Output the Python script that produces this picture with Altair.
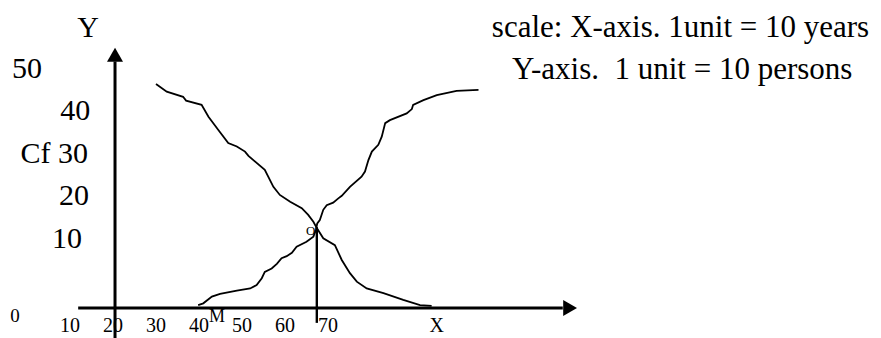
import altair as alt
import pandas as pd

# ---- data (x: age in years, y: cumulative frequency, persons) ----
less_age = [39.8, 41.0, 43.0, 44.9, 48.8, 51.9, 53.4, 54.6, 55.3, 56.9,
            58.1, 59.2, 60.4, 61.6, 62.7, 65.0, 66.6, 67.2, 67.5, 68.1,
            68.9, 69.7, 71.2, 72.4, 73.2, 75.1, 77.8, 78.6, 79.4, 80.2,
            81.7, 82.5, 83.3, 84.4, 88.3, 89.5, 89.8, 92.2, 95.3, 99.9, 105.0]
less_cf = [0.7, 1.1, 2.7, 3.3, 4.1, 4.6, 5.4, 7.0, 8.5, 9.3,
           10.4, 11.7, 12.2, 13.0, 14.4, 15.6, 16.8, 18.4, 19.9, 20.7,
           23.1, 24.2, 24.8, 25.8, 26.4, 28.5, 30.9, 32.1, 34.8, 36.8,
           38.4, 40.3, 43.5, 44.2, 45.8, 46.8, 47.8, 48.9, 50.1, 51.1, 51.3]

more_age = [30.0, 32.5, 36.3, 37.0, 40.6, 42.2, 44.5, 46.8, 48.8, 50.7,
            51.5, 55.3, 56.1, 57.3, 58.8, 61.2, 63.9, 65.4, 66.6, 67.4,
            68.9, 71.6, 73.2, 75.1, 76.7, 79.0, 82.9, 87.5, 91.4, 94.1]
more_cf = [52.7, 50.9, 49.7, 48.8, 47.8, 45.0, 41.9, 38.8, 38.0, 36.8,
           35.8, 32.5, 30.9, 28.5, 26.6, 25.0, 23.5, 21.9, 20.3, 18.8,
           16.4, 14.8, 11.3, 8.2, 6.2, 4.6, 3.5, 1.9, 0.7, 0.5]

median_age = 67.4
median_cf = 19.0

x_tick_values = [10, 20, 30, 40, 50, 60, 70]
x_tick_labels = ["10", "20", "30", "40", "50", "60", "70"]
y_tick_values = [50, 40, 30, 20, 10]
y_tick_labels = ["50", "40", "Cf 30", "20", "10"]

scale_line1 = "scale: X-axis. 1unit = 10 years"
scale_line2 = "Y-axis.\u00a0 1 unit = 10 persons"

# ---- layout (positions of the sketch's furniture, in the same data units) ----
XDOM = [-4.4186, 196.744]
YDOM = [-7.0588, 70.588]
FONT = "Liberation Serif"

xs = alt.Scale(domain=XDOM, nice=False, zero=False)
ys = alt.Scale(domain=YDOM, nice=False, zero=False)

def X(f="x"):
    return alt.X(f, type="quantitative", scale=xs, axis=None)

def Y(f="y"):
    return alt.Y(f, type="quantitative", scale=ys, axis=None)

curves = pd.concat([
    pd.DataFrame({"x": less_age, "y": less_cf, "s": "less", "i": range(len(less_age))}),
    pd.DataFrame({"x": more_age, "y": more_cf, "s": "more", "i": range(len(more_age))}),
])

curve_layer = alt.Chart(curves).mark_line(color="black", strokeWidth=1.8).encode(
    x=X(), y=Y(), detail="s:N", order="i:Q")

segs = pd.DataFrame({
    "x": [11.9, 20.47, median_age],
    "x2": [124.6, 20.47, median_age],
    "y": [0.0, -7.06, median_cf],
    "y2": [0.0, 58.0, -3.5],
    "w": [3.0, 3.0, 2.4],
})
seg_layer = alt.Chart(segs).mark_rule(color="black").encode(
    x=X(), x2="x2:Q", y=Y(), y2="y2:Q",
    strokeWidth=alt.StrokeWidth("w:Q", scale=None))

arrow_r = alt.Chart(pd.DataFrame({"x": [126.3], "y": [0.0]})).mark_point(
    shape="triangle-right", filled=True, color="black", size=256, opacity=1, strokeWidth=0
).encode(x=X(), y=Y())
arrow_u = alt.Chart(pd.DataFrame({"x": [20.47], "y": [59.6]})).mark_point(
    shape="triangle-up", filled=True, color="black", size=256, opacity=1, strokeWidth=0
).encode(x=X(), y=Y())

# y tick labels (right aligned, as placed in the sketch)
ylab = pd.DataFrame({"t": y_tick_labels, "y": y_tick_values,
                     "x": [3.5, 14.7, 14.2, 14.4, 12.8]})
ylab_layer = alt.Chart(ylab).mark_text(
    font=FONT, fontSize=30, align="right", baseline="alphabetic", dy=-17.5, color="black"
).encode(x=X(), y=Y(), text="t:N")

xlab = pd.DataFrame({"t": x_tick_labels + ["X"], "x": x_tick_values + [95.3]})
xlab["y"] = -5.7
xlab_layer = alt.Chart(xlab).mark_text(
    font=FONT, fontSize=20, align="center", baseline="alphabetic", color="black"
).encode(x=X(), y=Y(), text="t:N")

misc = pd.DataFrame({
    "t": ["Y", "0", "M", "O"],
    "x": [14.2, -2.8, 44.2, 66.0],
    "y": [63.8, -3.3, -3.3, 17.2],
    "fs": [30, 19, 18, 13],
})
misc_layer = alt.Chart(misc).mark_text(
    font=FONT, align="center", baseline="alphabetic", color="black"
).encode(x=X(), y=Y(), text="t:N", size=alt.Size("fs:Q", scale=None))

note = pd.DataFrame({"t": [scale_line1, scale_line2],
                     "x": [108.1, 112.8], "y": [63.8, 53.9]})
note_layer = alt.Chart(note).mark_text(
    font=FONT, fontSize=31, align="left", baseline="alphabetic", color="black"
).encode(x=X(), y=Y(), text="t:N")

chart = alt.layer(
    seg_layer, arrow_r, arrow_u, curve_layer,
    ylab_layer, xlab_layer, misc_layer, note_layer
).properties(
    width=865, height=330, padding=0, autosize="none", background="white"
).configure_view(stroke=None)

chart.save("out.html", embed_options={"renderer": "svg", "actions": False})
